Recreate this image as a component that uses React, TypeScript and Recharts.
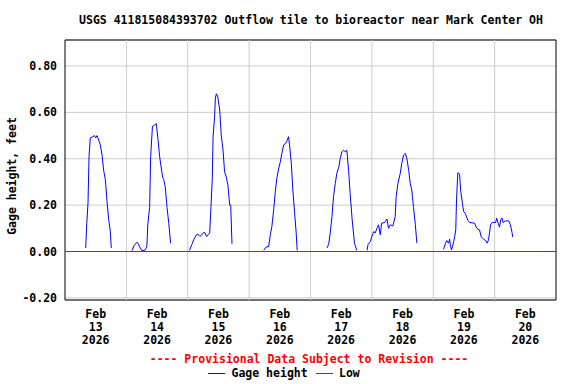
import { LineChart, Line, XAxis, YAxis, CartesianGrid, ReferenceLine, ReferenceArea } from "recharts";

// hours since Feb 13 00:00, gage height in feet; one pair of arrays per burst of flow
const feb13Hours = [8.1, 8.5, 9.0, 9.4, 9.9, 10.9, 11.5, 12.0, 12.5, 13.2, 13.8, 14.5, 15.1, 15.8, 16.4, 17.1, 17.7, 18.1];
const feb13Gage = [0.015, 0.12, 0.21, 0.41, 0.49, 0.495, 0.5, 0.49, 0.5, 0.48, 0.46, 0.415, 0.35, 0.31, 0.22, 0.135, 0.09, 0.015];

const feb14Hours = [26.2, 27.0, 28.1, 28.6, 29.2, 30.0, 31.2, 32.0, 32.4, 33.1, 33.5, 34.2, 35.0, 35.7, 36.4, 37.0, 37.9, 38.2, 38.6, 39.2, 39.9, 40.6, 41.3];
const feb14Gage = [0.004, 0.025, 0.04, 0.035, 0.02, 0.005, 0.005, 0.02, 0.12, 0.19, 0.41, 0.54, 0.545, 0.552, 0.48, 0.41, 0.34, 0.32, 0.31, 0.28, 0.19, 0.12, 0.036];

const feb15Hours = [48.7, 49.6, 50.3, 51.4, 52.0, 52.7, 53.5, 54.2, 54.8, 55.3, 56.0, 56.6, 57.2, 57.6, 57.9, 58.5, 58.8, 59.2, 59.7, 60.5, 61.1, 61.8, 62.4, 63.1, 63.7, 64.4, 64.8, 65.3];
const feb15Gage = [0.005, 0.03, 0.05, 0.072, 0.075, 0.065, 0.072, 0.082, 0.08, 0.065, 0.072, 0.08, 0.222, 0.316, 0.495, 0.58, 0.662, 0.68, 0.67, 0.61, 0.5, 0.437, 0.344, 0.32, 0.287, 0.2, 0.2, 0.033];

const feb16Hours = [77.7, 78.7, 79.6, 80.3, 80.9, 81.6, 82.3, 82.9, 83.6, 84.2, 84.8, 85.5, 86.3, 86.9, 87.4, 87.8, 88.5, 89.1, 89.8, 90.4, 90.8];
const feb16Gage = [0.005, 0.02, 0.02, 0.072, 0.108, 0.18, 0.265, 0.32, 0.36, 0.387, 0.423, 0.46, 0.466, 0.48, 0.495, 0.46, 0.38, 0.265, 0.165, 0.08, 0.005];

const feb17Hours = [102.4, 103.1, 103.7, 104.4, 105.0, 105.7, 106.3, 107.1, 107.6, 108.3, 108.9, 109.6, 110.2, 110.9, 111.5, 112.3, 113.2, 114.1];
const feb17Gage = [0.015, 0.03, 0.08, 0.15, 0.237, 0.294, 0.337, 0.366, 0.4, 0.43, 0.437, 0.43, 0.437, 0.35, 0.25, 0.136, 0.036, 0.005];

const feb18Hours = [118.1, 118.5, 119.4, 120.0, 120.7, 121.3, 122.0, 122.6, 123.3, 123.8, 125.0, 125.9, 126.5, 127.2, 128.2, 129.1, 129.5, 130.2, 131.1, 131.7, 132.4, 133.1, 133.7, 134.4, 135.0, 135.6, 136.3, 137.0, 137.6];
const feb18Gage = [0.005, 0.03, 0.043, 0.065, 0.086, 0.08, 0.1, 0.115, 0.072, 0.122, 0.125, 0.14, 0.1, 0.115, 0.11, 0.15, 0.237, 0.294, 0.337, 0.38, 0.416, 0.423, 0.4, 0.35, 0.294, 0.265, 0.19, 0.115, 0.036];

const feb19Hours = [148.0, 148.8, 149.3, 150.0, 150.4, 150.7, 151.1, 151.5, 152.0, 152.4, 152.8, 153.1, 153.6, 154.3, 154.7, 155.4, 155.9, 156.5, 157.2, 157.6, 158.2, 160.2, 160.8, 161.4, 162.1, 162.8, 163.7, 164.5, 165.1, 165.6, 166.0, 166.4, 167.1, 168.4, 168.8, 169.3, 169.9, 170.4, 170.9, 171.3, 172.2, 173.5, 174.2, 174.8, 175.1];
const feb19Gage = [0.01, 0.036, 0.047, 0.036, 0.053, 0.03, 0.007, 0.02, 0.043, 0.065, 0.093, 0.222, 0.34, 0.334, 0.265, 0.208, 0.172, 0.165, 0.144, 0.133, 0.125, 0.122, 0.105, 0.096, 0.093, 0.062, 0.053, 0.047, 0.036, 0.05, 0.08, 0.115, 0.125, 0.125, 0.144, 0.125, 0.105, 0.136, 0.144, 0.125, 0.132, 0.132, 0.115, 0.082, 0.062];

const segments: [number[], number[]][] = [
  [feb13Hours, feb13Gage],
  [feb14Hours, feb14Gage],
  [feb15Hours, feb15Gage],
  [feb16Hours, feb16Gage],
  [feb17Hours, feb17Gage],
  [feb18Hours, feb18Gage],
  [feb19Hours, feb19Gage],
];

const dayLabels = ["13", "14", "15", "16", "17", "18", "19", "20"];
const dayTicks = [12, 36, 60, 84, 108, 132, 156, 180];
const midnights = [24, 48, 72, 96, 120, 144, 168];
const yTicks = [-0.2, 0, 0.2, 0.4, 0.6, 0.8];
const yMin = -0.2091;
const yMax = 0.912;

// flatten, with a null between bursts so the line breaks
const data: { t: number; gage: number | null }[] = [];
segments.forEach(([hours, gage], i) => {
  if (i > 0) data.push({ t: hours[0] - 0.05, gage: null });
  hours.forEach((t, j) => data.push({ t, gage: gage[j] }));
});

const font = "'DejaVu Sans Mono', monospace";
const textStyle = { fontFamily: font, fontWeight: 700, fontSize: 11.5, color: "#000", whiteSpace: "nowrap" as const, lineHeight: "14px" };

function DayTick({ x, y, payload }: any) {
  const i = dayTicks.indexOf(payload.value);
  return (
    <text x={x} y={y + 10} textAnchor="middle" fontFamily={font} fontWeight={700} fontSize={11.5} fill="#000">
      <tspan x={x}>Feb</tspan>
      <tspan x={x} dy={13}>{dayLabels[i]}</tspan>
      <tspan x={x} dy={13}>2026</tspan>
    </text>
  );
}

export default function App() {
  return (
    <div style={{ position: "absolute", left: 0, top: 0, width: 576, height: 384, background: "#fff" }}>
      <LineChart width={576} height={384} data={data} margin={{ top: 40, right: 20, bottom: 0, left: 0 }}>
        <CartesianGrid vertical={false} stroke="#cccccc" />
        {midnights.map((m) => (
          <ReferenceLine key={m} x={m} stroke="#cccccc" />
        ))}
        <XAxis
          type="number"
          dataKey="t"
          domain={[0, 192]}
          ticks={dayTicks}
          interval={0}
          height={84}
          tickLine={false}
          axisLine={false}
          tick={<DayTick />}
        />
        <YAxis
          type="number"
          domain={[yMin, yMax]}
          ticks={yTicks}
          interval={0}
          width={65}
          tickLine={false}
          axisLine={false}
          allowDataOverflow
          tickFormatter={(v: number) => v.toFixed(2)}
          tick={{ fontFamily: font, fontWeight: 700, fontSize: 11.5, fill: "#000" }}
        />
        <ReferenceLine y={0} stroke="#ff0000" strokeWidth={1} />
        <Line
          type="linear"
          dataKey="gage"
          stroke="#0000ff"
          strokeWidth={1}
          dot={false}
          activeDot={false}
          isAnimationActive={false}
        />
        <ReferenceArea x1={0} x2={192} y1={yMin} y2={yMax} fill="none" fillOpacity={0} stroke="#000" strokeWidth={1} />
      </LineChart>

      <div style={{ ...textStyle, position: "absolute", left: 311, top: 20, transform: "translate(-50%, -50%)" }}>
        USGS 411815084393702 Outflow tile to bioreactor near Mark Center OH
      </div>
      <div style={{ ...textStyle, position: "absolute", left: 12, top: 175.5, transform: "translate(-50%, -50%) rotate(-90deg)" }}>
        Gage height, feet
      </div>
      <div style={{ ...textStyle, color: "#ff0000", position: "absolute", left: 309, top: 358.5, transform: "translate(-50%, -50%)" }}>
        ---- Provisional Data Subject to Revision ----
      </div>
      <div style={{ position: "absolute", left: 208, top: 373, width: 17, height: 1, background: "#0000ff" }} />
      <div style={{ ...textStyle, position: "absolute", left: 231.5, top: 373, transform: "translateY(-50%)" }}>Gage height</div>
      <div style={{ position: "absolute", left: 316, top: 373, width: 17, height: 1, background: "#ff0000" }} />
      <div style={{ ...textStyle, position: "absolute", left: 339, top: 373, transform: "translateY(-50%)" }}>Low</div>
    </div>
  );
}
